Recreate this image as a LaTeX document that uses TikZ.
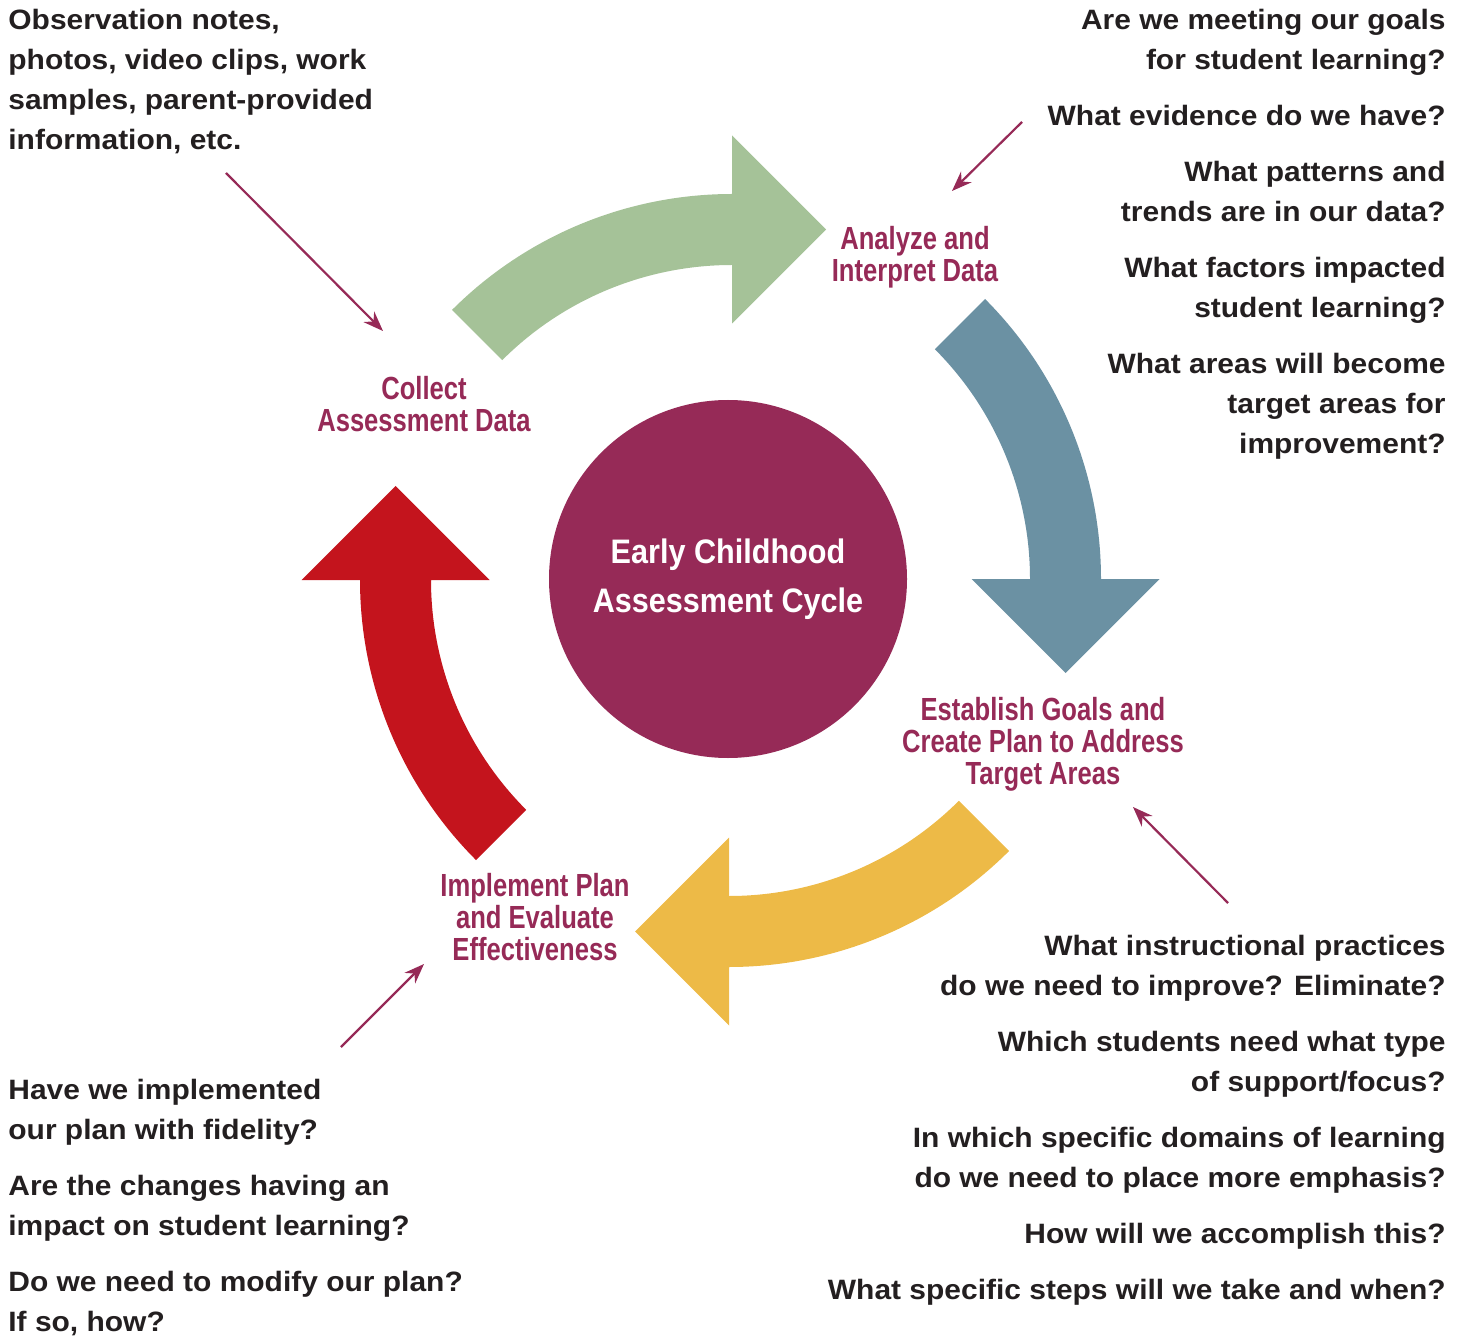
\documentclass[tikz,border=0pt]{standalone}
\usepackage{fontspec}
\setmainfont{Liberation Sans}
\newfontfamily\qfont[FakeStretch=1.07]{Liberation Sans}
\newfontfamily\stagefont[FakeStretch=0.8]{Liberation Sans}
\newfontfamily\hubfont[FakeStretch=0.9]{Liberation Sans}
\usetikzlibrary{calc,arrows.meta}

\definecolor{cyclewine}{RGB}{150,42,87}
\definecolor{leafgreen}{RGB}{165,194,152}
\definecolor{slateblue}{RGB}{107,145,163}
\definecolor{mustard}{RGB}{237,186,71}
\definecolor{signalred}{RGB}{196,20,29}
\definecolor{ink}{RGB}{35,31,32}

\begin{document}
\begin{tikzpicture}[x=0.5pt, y=0.5pt,
  question/.style={font=\qfont\bfseries\fontsize{14}{20}\selectfont, text=ink, inner sep=0pt},
  stage/.style={font=\stagefont\bfseries\fontsize{16}{16}\selectfont, text=cyclewine, inner sep=0pt, align=center, anchor=base},
  pointer/.style={draw=cyclewine, line width=1.1pt, -{Stealth[length=10pt,width=7.5pt]}}]
\useasboundingbox (0,0) rectangle (1466,-1336);

% the four curved arrows round the hub
\foreach \cx/\cy/\a/\col in {732/590/90/leafgreen, 705/579/0/slateblue, 729/571/-90/mustard, 756/580/180/signalred}{
  \coordinate (c) at (\cx,-\cy);
  \fill[\col] ($(c)+(\a+45:396)$) arc[start angle=\a+45, end angle=\a, radius=396]
    -- ($(c)+(\a:454.5)$) -- ($(c)+(\a:360.5)+(\a-90:94)$) -- ($(c)+(\a:266.5)$)
    -- ($(c)+(\a:325)$) arc[start angle=\a, end angle=\a+45, radius=325] -- cycle;
}

\node[circle, fill=cyclewine, minimum size=179pt, inner sep=0pt, text=white, align=center,
  font=\hubfont\bfseries\fontsize{17}{24.5}\selectfont] (hub) at (728,-579) {Early Childhood\\Assessment Cycle};

% stage labels (base = last line)
\node[stage] (analyze) at (915,-282) {Analyze and\\Interpret Data};
\node[stage] (collect) at (424,-432) {Collect\\Assessment Data};
\node[stage] (establish) at (1043,-784) {Establish Goals and\\Create Plan to Address\\Target Areas};
\node[stage] (implement) at (535,-960) {Implement Plan\\and Evaluate\\Effectiveness};

% question blocks (base = last line)
\node[question, anchor=base west, align=left] (observe) at (8,-150) {Observation notes,\\photos, video clips, work\\samples, parent-provided\\information, etc.};

\node[question, anchor=base east, align=right] (goals) at (1446,-70) {Are we meeting our goals\\for student learning?};
\node[question, anchor=base east, align=right] (evidence) at (1446,-126) {What evidence do we have?};
\node[question, anchor=base east, align=right] (patterns) at (1446,-222) {What patterns and\\trends are in our data?};
\node[question, anchor=base east, align=right] (factors) at (1446,-318) {What factors impacted\\student learning?};
\node[question, anchor=base east, align=right] (areas) at (1446,-454) {What areas will become\\target areas for\\improvement?};

\node[question, anchor=base east, align=right] (practices) at (1446,-995) {What instructional practices\\do we need to improve? Eliminate?};
\node[question, anchor=base east, align=right] (support) at (1446,-1091) {Which students need what type\\of support/focus?};
\node[question, anchor=base east, align=right] (domains) at (1446,-1187) {In which specific domains of learning\\do we need to place more emphasis?};
\node[question, anchor=base east, align=right] (accomplish) at (1446,-1243) {How will we accomplish this?};
\node[question, anchor=base east, align=right] (steps) at (1446,-1299) {What specific steps will we take and when?};

\node[question, anchor=base west, align=left] (fidelity) at (8,-1139) {Have we implemented\\our plan with fidelity?};
\node[question, anchor=base west, align=left] (impact) at (8,-1235) {Are the changes having an\\impact on student learning?};
\node[question, anchor=base west, align=left] (modify) at (8,-1331) {Do we need to modify our plan?\\If so, how?};

% pointers
\coordinate (p1) at (226,-173);
\coordinate (q1) at (383,-331);
\coordinate (p2) at (1022,-122);
\coordinate (q2) at (952,-191);
\coordinate (p3) at (1228,-903);
\coordinate (q3) at (1133,-807);
\coordinate (p4) at (341,-1047);
\coordinate (q4) at (424,-964);
\draw[pointer] (p1) -- (q1);
\draw[pointer] (p2) -- (q2);
\draw[pointer] (p3) -- (q3);
\draw[pointer] (p4) -- (q4);

\end{tikzpicture}
\end{document}
